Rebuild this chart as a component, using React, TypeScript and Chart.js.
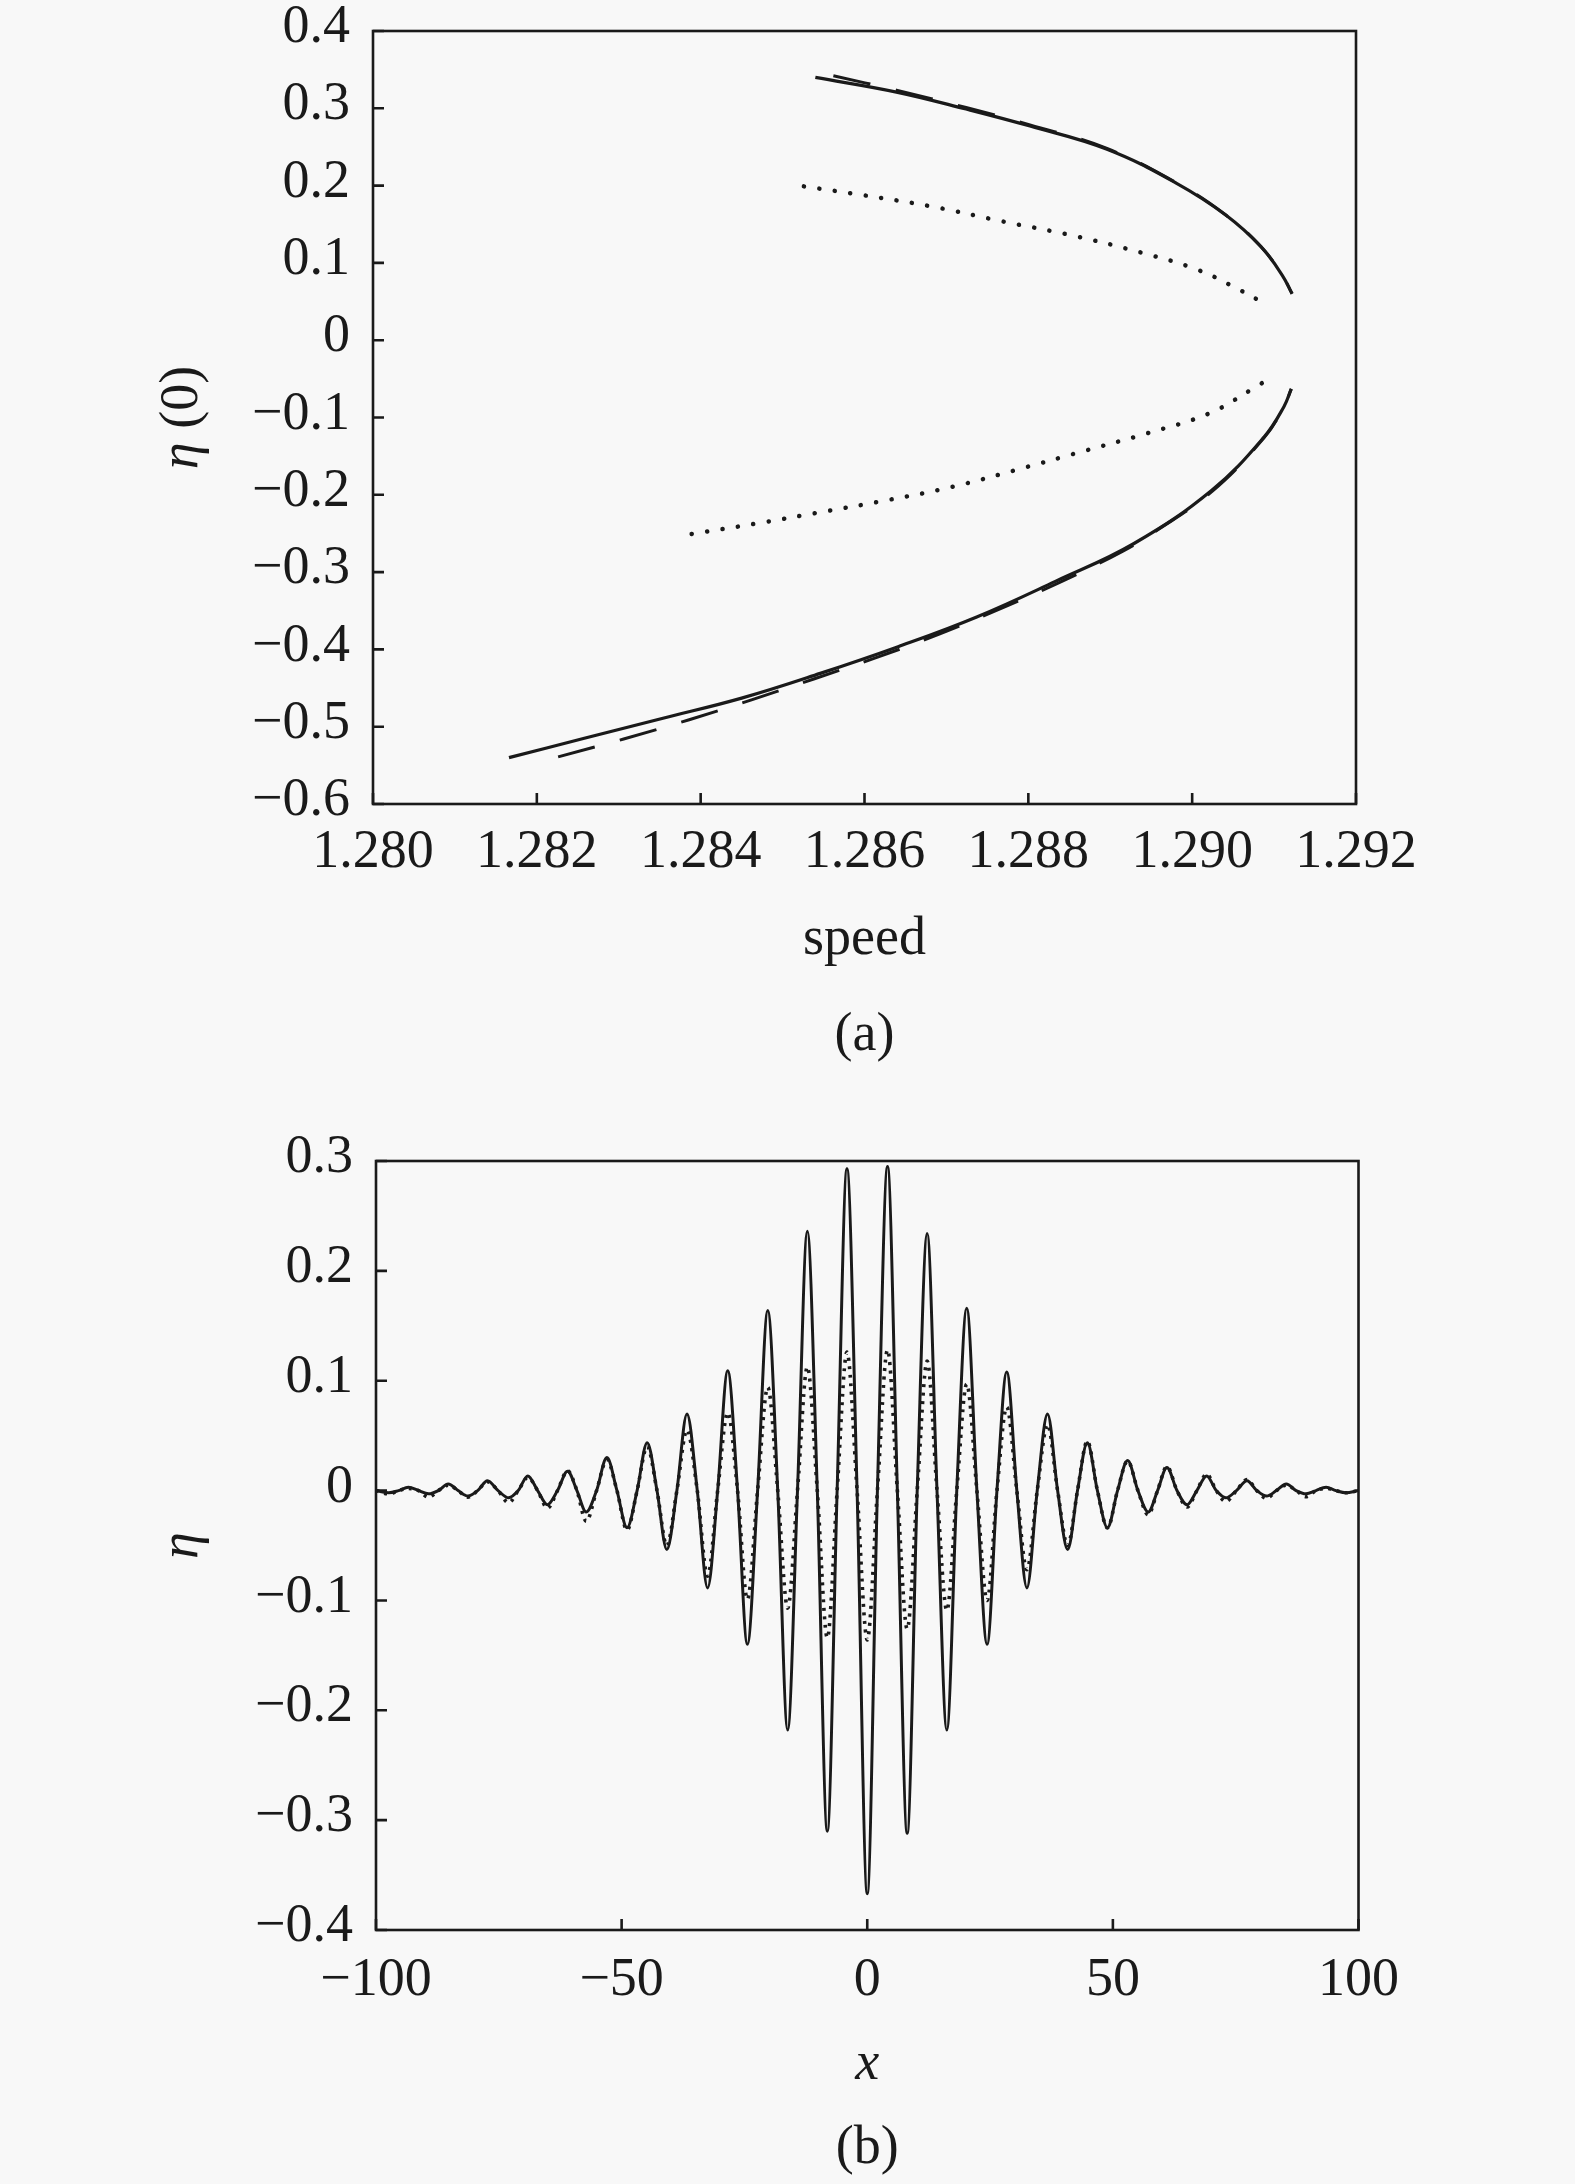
import React, { useEffect, useRef } from "react";
import { Chart, registerables } from "chart.js";

Chart.register(...registerables);

const FONT = '"Liberation Serif", "Times New Roman", Times, serif';
const INK = "#1a1a1a";
const FS = 54;

// ---------- Panel (a): eta(0) versus speed ----------
const speedTicks = [1.28, 1.282, 1.284, 1.286, 1.288, 1.29, 1.292];
const etaTicksA = [0.4, 0.3, 0.2, 0.1, 0, -0.1, -0.2, -0.3, -0.4, -0.5, -0.6];

const solidUpperSpeed = [1.2854, 1.28639, 1.28724, 1.28802, 1.28896, 1.28981, 1.29041, 1.29084, 1.2911, 1.29122];
const solidUpperEta = [0.34, 0.321, 0.299, 0.277, 0.247, 0.203, 0.162, 0.121, 0.084, 0.06];

const dashedUpperSpeed = [1.28562, 1.28639, 1.28724, 1.28802, 1.28896, 1.28981, 1.29041, 1.29084, 1.2911, 1.29122];
const dashedUpperEta = [0.342, 0.3235, 0.301, 0.2785, 0.248, 0.2035, 0.162, 0.121, 0.084, 0.06];

const solidLowerSpeed = [1.28166, 1.28258, 1.28354, 1.2845, 1.28546, 1.28641, 1.28737, 1.28833, 1.28929, 1.29024, 1.29088, 1.29112, 1.29121];
const solidLowerEta = [-0.54, -0.515, -0.489, -0.463, -0.431, -0.3965, -0.358, -0.312, -0.263, -0.194, -0.125, -0.086, -0.063];

const dashedLowerSpeed = [1.28226, 1.28306, 1.28386, 1.28463, 1.28539, 1.28616, 1.28692, 1.28769, 1.28839, 1.28916, 1.28954, 1.29024, 1.29088, 1.29112, 1.29121];
const dashedLowerEta = [-0.539, -0.516, -0.491, -0.465, -0.438, -0.41, -0.38, -0.346, -0.313, -0.2725, -0.248, -0.196, -0.126, -0.086, -0.063];

const dottedUpperSpeed = [1.28526, 1.28596, 1.28682, 1.28767, 1.28853, 1.28939, 1.29007, 1.29058, 1.29094];
const dottedUpperEta = [0.199, 0.188, 0.173, 0.154, 0.1356, 0.113, 0.091, 0.065, 0.044];

const dottedLowerSpeed = [1.28389, 1.28469, 1.28549, 1.28629, 1.28708, 1.28788, 1.28865, 1.28945, 1.29021, 1.29075, 1.29093];
const dottedLowerEta = [-0.2507, -0.237, -0.222, -0.2067, -0.1895, -0.167, -0.1442, -0.1205, -0.0946, -0.0622, -0.0502];

// ---------- Panel (b): eta versus x ----------
const xTicksB = [-100, -50, 0, 50, 100];
const etaTicksB = [0.3, 0.2, 0.1, 0, -0.1, -0.2, -0.3, -0.4];

const waveX = [
  -100, -97.4, -95.4, -93.4, -91.35, -89.3, -87.3, -85.3, -83.3, -81.3, -79.3, -77.3, -75.15, -73, -71.05, -69.1,
  -67.1, -65.1, -63.05, -61, -59.1, -57.2, -55.1, -53, -50.95, -48.9, -46.85, -44.8, -42.8, -40.8, -38.75, -36.7,
  -34.6, -32.5, -30.45, -28.4, -26.4, -24.4, -22.32, -20.25, -18.22, -16.2, -14.2, -12.2, -10.17, -8.13, -6.13, -4.13,
  -2.07, 0, 2.07, 4.13, 6.13, 8.13, 10.17, 12.2, 14.2, 16.2, 18.22, 20.25, 22.32, 24.4, 26.4, 28.4, 30.45, 32.5, 34.6,
  36.7, 38.75, 40.8, 42.8, 44.8, 46.85, 48.9, 50.95, 53, 55.1, 57.2, 59.1, 61, 63.05, 65.1, 67.1, 69.1, 71.05, 73,
  75.15, 77.3, 79.3, 81.3, 83.3, 85.3, 87.3, 89.3, 91.35, 93.4, 95.4, 97.4, 100,
];

const waveSolid = [
  0, -0.002, 0, 0.003, 0, -0.003, 0, 0.006, 0, -0.005, 0, 0.009, 0, -0.0066, 0, 0.0133,
  0, -0.0128, 0, 0.0175, 0, -0.0195, 0, 0.03, 0, -0.0338, 0, 0.0436, 0, -0.0536, 0, 0.0697,
  0, -0.0886, 0, 0.109, 0, -0.14, 0, 0.164, 0, -0.218, 0, 0.236, 0, -0.31, 0, 0.293,
  0, -0.367, 0, 0.295, 0, -0.312, 0, 0.234, 0, -0.218, 0, 0.166, 0, -0.14, 0, 0.108, 0, -0.0886, 0,
  0.0697, 0, -0.0536, 0, 0.0436, 0, -0.0338, 0, 0.0274, 0, -0.0195, 0, 0.021, 0, -0.0128, 0, 0.0133, 0, -0.0066,
  0, 0.009, 0, -0.005, 0, 0.006, 0, -0.003, 0, 0.003, 0, -0.002, 0,
];

const waveDotted = [
  0, -0.003, 0, 0.002, 0, -0.006, 0, 0.005, 0, -0.006, 0, 0.008, 0, -0.011, 0, 0.012,
  0, -0.016, 0, 0.018, 0, -0.028, 0, 0.028, 0, -0.036, 0, 0.04, 0, -0.05, 0, 0.055,
  0, -0.078, 0, 0.071, 0, -0.099, 0, 0.094, 0, -0.107, 0, 0.1125, 0, -0.134, 0, 0.126,
  0, -0.136, 0, 0.128, 0, -0.126, 0, 0.118, 0, -0.109, 0, 0.097, 0, -0.1, 0, 0.076, 0, -0.072, 0,
  0.06, 0, -0.05, 0, 0.045, 0, -0.034, 0, 0.027, 0, -0.022, 0, 0.022, 0, -0.015, 0, 0.015, 0, -0.01,
  0, 0.01, 0, -0.007, 0, 0.005, 0, -0.0055, 0, 0.002, 0, -0.002, 0,
];

// ---------- helpers ----------
const pts = (xs: number[], ys: number[]) => xs.map((x, i) => ({ x, y: ys[i] }));

const signed = (v: number, d: number) => {
  if (Math.abs(v) < 1e-9) return "0";
  const s = Math.abs(v).toFixed(d);
  return v < 0 ? "\u2212" + s : s;
};

const frameTicksPlugin = {
  id: "frameTicks",
  afterDraw(chart: any, _args: any, opts: any) {
    const { ctx, chartArea } = chart;
    const { left, right, top, bottom } = chartArea;
    ctx.save();
    ctx.strokeStyle = INK;
    ctx.lineWidth = 2.6;
    ctx.lineCap = "butt";
    ctx.setLineDash([]);
    ctx.strokeRect(left, top, right - left, bottom - top);
    ctx.beginPath();
    const xs = chart.scales.x;
    xs.ticks.forEach((t: any) => {
      const px = xs.getPixelForValue(t.value);
      ctx.moveTo(px, bottom);
      ctx.lineTo(px, bottom - 11);
    });
    const ys = chart.scales.y;
    ys.ticks.forEach((t: any) => {
      const py = ys.getPixelForValue(t.value);
      ctx.moveTo(left, py);
      ctx.lineTo(left + 11, py);
    });
    ctx.stroke();

    ctx.fillStyle = INK;
    ctx.textBaseline = "middle";

    // panel caption, centred under the plot area
    ctx.textAlign = "center";
    ctx.font = `${FS}px ${FONT}`;
    ctx.fillText(opts.caption, (left + right) / 2, opts.captionY);

    // rotated y-axis title (mixed italic / upright)
    const parts: { text: string; italic: boolean }[] = opts.parts || [];
    ctx.translate(opts.x, (top + bottom) / 2);
    ctx.rotate(-Math.PI / 2);
    ctx.textAlign = "left";
    const widths = parts.map((p) => {
      ctx.font = `${p.italic ? "italic " : ""}${FS}px ${FONT}`;
      return ctx.measureText(p.text).width;
    });
    const total = widths.reduce((a, b) => a + b, 0);
    let cx = -total / 2;
    parts.forEach((p, i) => {
      ctx.font = `${p.italic ? "italic " : ""}${FS}px ${FONT}`;
      ctx.fillText(p.text, cx, 0);
      cx += widths[i];
    });
    ctx.restore();
  },
};

const lineDs = (data: any[], extra: any) => ({
  data,
  showLine: true,
  pointRadius: 0,
  pointHoverRadius: 0,
  borderColor: INK,
  backgroundColor: INK,
  borderWidth: 3,
  fill: false,
  ...extra,
});

const tickFont = { family: FONT, size: FS, weight: "normal" as const };

function makeConfig(p: any): any {
  return {
    type: "scatter",
    data: { datasets: p.datasets },
    options: {
      animation: false,
      responsive: true,
      maintainAspectRatio: false,
      events: [],
      layout: { padding: p.padding },
      plugins: {
        legend: { display: false },
        tooltip: { enabled: false },
        title: { display: false },
        frameTicks: { parts: p.yTitle, x: p.yTitleX, caption: p.caption, captionY: p.captionY },
      },
      scales: {
        x: {
          type: "linear",
          min: p.xMin,
          max: p.xMax,
          afterBuildTicks: (s: any) => {
            s.ticks = p.xTicks.map((v: number) => ({ value: v }));
          },
          afterFit: (s: any) => {
            s.height = p.xHeight;
          },
          grid: { display: false, drawTicks: false },
          border: { display: false },
          ticks: {
            padding: p.xTickPad,
            color: INK,
            font: tickFont,
            autoSkip: false,
            maxRotation: 0,
            callback: p.xFmt,
          },
          title: {
            display: true,
            text: p.xTitle,
            color: INK,
            font: { family: FONT, size: FS, weight: "normal", style: p.xTitleItalic ? "italic" : "normal" },
            padding: { top: 0, bottom: 0 },
          },
        },
        y: {
          type: "linear",
          min: p.yMin,
          max: p.yMax,
          afterBuildTicks: (s: any) => {
            s.ticks = p.yTicks.map((v: number) => ({ value: v }));
          },
          afterFit: (s: any) => {
            s.width = p.yWidth;
          },
          grid: { display: true, drawOnChartArea: false, drawTicks: true, tickLength: 23, tickColor: "rgba(0,0,0,0)" },
          border: { display: false },
          ticks: {
            padding: 0,
            labelOffset: -3,
            color: INK,
            font: { ...tickFont, lineHeight: 1 },
            autoSkip: false,
            callback: (v: any) => signed(Number(v), 1),
          },
        },
      },
    },
    plugins: [frameTicksPlugin],
  };
}

export default function App() {
  const refA = useRef<HTMLCanvasElement | null>(null);
  const refB = useRef<HTMLCanvasElement | null>(null);

  useEffect(() => {
    const dotA = { borderDash: [0.1, 15.5], borderCapStyle: "round", borderWidth: 4.5, tension: 0.4 };
    const dashA = { borderDash: [38, 26], borderWidth: 3, tension: 0.4 };
    const solidA = { borderWidth: 3.2, tension: 0.4 };

    const chartA = new Chart(
      refA.current as HTMLCanvasElement,
      makeConfig({
        datasets: [
          lineDs(pts(solidUpperSpeed, solidUpperEta), solidA),
          lineDs(pts(solidLowerSpeed, solidLowerEta), solidA),
          lineDs(pts(dashedUpperSpeed, dashedUpperEta), dashA),
          lineDs(pts(dashedLowerSpeed, dashedLowerEta), dashA),
          lineDs(pts(dottedUpperSpeed, dottedUpperEta), dotA),
          lineDs(pts(dottedLowerSpeed, dottedLowerEta), dotA),
        ],
        padding: { top: 31, right: 219, bottom: 127.6, left: 0 },
        caption: "(a)",
        captionY: 1035.6,
        yTitle: [
          { text: "\u03B7", italic: true },
          { text: " (0)", italic: false },
        ],
        yTitleX: 182.5,
        xMin: 1.28,
        xMax: 1.292,
        xTicks: speedTicks,
        xHeight: 168.4,
        xTickPad: 16,
        xFmt: (v: any) => Number(v).toFixed(3),
        xTitle: "speed",
        xTitleItalic: false,
        yMin: -0.6,
        yMax: 0.4,
        yTicks: etaTicksA,
        yWidth: 373,
      })
    );

    const chartB = new Chart(
      refB.current as HTMLCanvasElement,
      makeConfig({
        datasets: [
          lineDs(pts(waveX, waveSolid), { borderWidth: 3, cubicInterpolationMode: "monotone" }),
          lineDs(pts(waveX, waveDotted), {
            borderWidth: 3.6,
            borderDash: [3, 5.5],
            cubicInterpolationMode: "monotone",
          }),
        ],
        padding: { top: 61, right: 216.5, bottom: 86.8, left: 0 },
        caption: "(b)",
        captionY: 1048.6,
        yTitle: [{ text: "\u03B7", italic: true }],
        yTitleX: 183.3,
        xMin: -100,
        xMax: 100,
        xTicks: xTicksB,
        xHeight: 167.2,
        xTickPad: 18.6,
        xFmt: (v: any) => signed(Number(v), 0),
        xTitle: "x",
        xTitleItalic: true,
        yMin: -0.4,
        yMax: 0.3,
        yTicks: etaTicksB,
        yWidth: 376,
      })
    );

    return () => {
      chartA.destroy();
      chartB.destroy();
    };
  }, []);

  return (
    <div style={{ position: "absolute", left: 0, top: 0, width: 1575, height: 2184, background: "#f8f8f8" }}>
      <div style={{ position: "absolute", left: 0, top: 0, width: 1575, height: 1100 }}>
        <canvas ref={refA} />
      </div>
      <div style={{ position: "absolute", left: 0, top: 1100, width: 1575, height: 1084 }}>
        <canvas ref={refB} />
      </div>
    </div>
  );
}
